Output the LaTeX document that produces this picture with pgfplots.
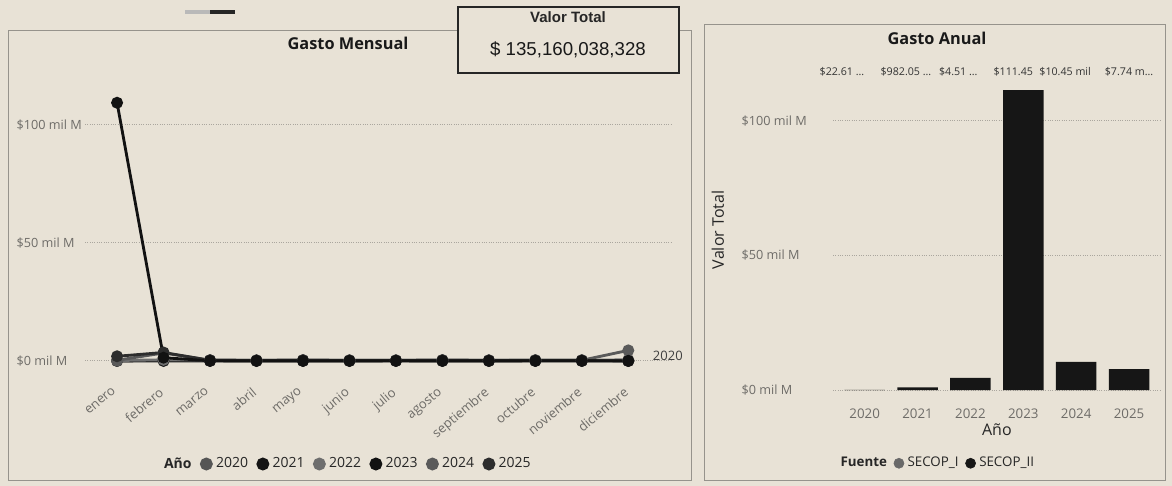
\documentclass[border=0pt]{standalone}
\usepackage{pgfplots}
\pgfplotsset{compat=1.18}
\usepackage{fontspec}
\setmainfont{Open Sans}
\newfontfamily\cardfont{Liberation Sans}
\definecolor{bg}{RGB}{232,226,214}
\definecolor{tickgray}{RGB}{110,108,104}
\definecolor{gridgray}{RGB}{170,166,158}
\definecolor{panelgray}{RGB}{150,147,140}
\definecolor{c2020}{RGB}{85,85,85}
\definecolor{c2021}{RGB}{20,20,20}
\definecolor{c2022}{RGB}{110,110,110}
\definecolor{c2023}{RGB}{18,18,18}
\definecolor{c2024}{RGB}{90,90,90}
\definecolor{c2025}{RGB}{45,45,45}
\definecolor{barblack}{RGB}{22,22,22}
\definecolor{secopI}{RGB}{105,105,105}
\newcommand{\fs}[1]{\fontsize{#1}{#1}\selectfont}

\pgfplotstableread{
m   y2020 y2021 y2022 y2023 y2024 y2025
0   0.00  0.05  0.20  109.40 0.30 2.00
1   0.00  0.10  0.50  1.40  3.40  3.60
2   0.00  0.08  0.35  0.07  0.30  0.30
3   0.00  0.08  0.35  0.06  0.20  0.20
4   0.00  0.09  0.40  0.06  0.30  0.30
5   0.00  0.08  0.35  0.06  0.20  0.20
6   0.00  0.08  0.35  0.07  0.20  0.20
7   0.00  0.08  0.40  0.06  0.30  0.30
8   0.00  0.08  0.35  0.06  0.20  0.20
9   0.00  0.08  0.40  0.07  0.30  0.20
10  0.00  0.08  0.35  0.07  0.30  0.20
11  0.02  0.10  0.50  0.07  4.50  0.00
}\mensual

\pgfplotstableread{
x  v
0  0.0226
1  0.982
2  4.51
3  111.45
4  10.45
5  7.74
}\anual

\begin{document}
\begin{tikzpicture}
\begin{scope}[x=0.6pt,y=-0.6pt]
  \fill[bg] (0,0) rectangle (1172,486);
  % panels
  \draw[panelgray, line width=0.5pt] (8,30) rectangle (691,480);
  \draw[panelgray, line width=0.5pt] (704,24) rectangle (1165,480);
  % slider artifact
  \draw[line width=2.2pt, gray!55] (185,12) -- (210,12);
  \draw[line width=2.2pt, black!85] (210,12) -- (235,12);
  % card
  \filldraw[fill=bg, draw=black!85, line width=1pt] (458,7) rectangle (679,73);
  \node[font=\cardfont\bfseries\fs{9}, text=black!85] at (568,17) {Valor Total};
  \node[font=\cardfont\fs{11.2}, text=black!90] at (568,50) {\$ 135,160,038,328};
  % titles
  \node[font=\bfseries\fs{9.8}, text=black!90] at (348,43) {Gasto Mensual};
  \node[font=\bfseries\fs{9.8}, text=black!90] at (937,38) {Gasto Anual};
  \coordinate (LA) at (85,371);
  \coordinate (RA) at (833,395.4);
\end{scope}

% ---------- Gasto Mensual ----------
\begin{axis}[
  at={(LA)}, anchor=south west,
  scale only axis, width=352.2pt, height=168.6pt,
  xmin=-0.69, xmax=11.94, ymin=-4.24, ymax=114.8,
  axis line style={draw=none}, tick style={draw=none},
  ytick={0,50,100}, yticklabels={\$0 mil M,\$50 mil M,\$100 mil M},
  yticklabel style={anchor=west, xshift=-44.6pt, font=\fs{7.6}, text=tickgray},
  xtick={0,...,11},
  xticklabels={enero,febrero,marzo,abril,mayo,junio,julio,agosto,septiembre,octubre,noviembre,diciembre},
  xticklabel style={rotate=40, anchor=north east, font=\fs{7.8}, text=tickgray, xshift=-5pt, yshift=-1.5pt},
  ymajorgrids, major grid style={densely dotted, gridgray, line width=0.6pt},
  clip=false,
  legend style={at={(axis description cs:0.447,-0.331)}, anchor=center, draw=none, fill=none,
    legend columns=-1, font=\fs{8.4}, text=black!85,
    /tikz/every even column/.append style={column sep=3pt},
    legend cell align=left},
  legend image code/.code={\fill[#1] (0.1cm,0cm) circle (3pt);},
  every axis plot/.append style={line width=1.7pt, mark=*, mark size=2.7pt},
]
\addlegendimage{empty legend}\addlegendentry{\textbf{Año}}
\addlegendimage{c2020}\addlegendentry{2020}
\addlegendimage{c2021}\addlegendentry{2021}
\addlegendimage{c2022}\addlegendentry{2022}
\addlegendimage{c2023}\addlegendentry{2023}
\addlegendimage{c2024}\addlegendentry{2024}
\addlegendimage{c2025}\addlegendentry{2025}
\addplot[c2020, forget plot] table[x=m,y=y2020] {\mensual};
\addplot[c2021, forget plot] table[x=m,y=y2021] {\mensual};
\addplot[c2022, forget plot] table[x=m,y=y2022] {\mensual};
\addplot[c2024, forget plot] table[x=m,y=y2024] {\mensual};
\addplot[c2025, forget plot] table[x=m,y=y2025] {\mensual};
\addplot[c2023, forget plot] table[x=m,y=y2023] {\mensual};
\node[font=\fs{7.8}, text=black!75] at (axis cs:11.85,2.1) {2020};
\end{axis}

% ---------- Gasto Anual ----------
\begin{axis}[
  at={(RA)}, anchor=south west,
  scale only axis, width=196.7pt, height=192.1pt,
  xmin=-0.6, xmax=5.6, ymin=-2, ymax=117,
  ybar, bar width=24.3pt,
  axis line style={draw=none}, tick style={draw=none},
  ytick={0,50,100}, yticklabels={\$0 mil M,\$50 mil M,\$100 mil M},
  yticklabel style={anchor=west, xshift=-58.4pt, font=\fs{7.6}, text=tickgray},
  xtick={0,...,5}, xticklabels={2020,2021,2022,2023,2024,2025},
  xticklabel style={font=\fs{8}, text=tickgray},
  ymajorgrids, major grid style={densely dotted, gridgray, line width=0.6pt},
  ylabel={Valor Total},
  ylabel style={at={(axis description cs:-0.351,0.517)}, anchor=center, font=\fs{9.6}, text=black!85},
  xlabel={Año},
  xlabel style={at={(axis description cs:0.5,-0.108)}, anchor=center, font=\fs{9.6}, text=black!85},
  clip=false,
  legend style={at={(axis description cs:0.318,-0.212)}, anchor=center, draw=none, fill=none,
    legend columns=-1, font=\fs{8}, text=black!85,
    /tikz/every even column/.append style={column sep=2pt}},
  legend image code/.code={\fill[#1] (0.1cm,0cm) circle (3pt);},
]
\addlegendimage{empty legend}\addlegendentry{\textbf{Fuente}}
\addlegendimage{secopI}\addlegendentry{SECOP\_I}
\addlegendimage{barblack}\addlegendentry{SECOP\_II}
\addplot[fill=barblack, draw=none, forget plot, bar shift=0pt] table[x=x,y=v] {\anual};
\node[font=\fs{6.4}, text=black!80] at (axis cs:-0.43,118.2) {\$22.61 ...};
\node[font=\fs{6.4}, text=black!80] at (axis cs:0.78,118.2) {\$982.05 ...};
\node[font=\fs{6.4}, text=black!80] at (axis cs:1.77,118.2) {\$4.51 ...};
\node[font=\fs{6.4}, text=black!80] at (axis cs:2.81,118.2) {\$111.45};
\node[font=\fs{6.4}, text=black!80] at (axis cs:3.79,118.2) {\$10.45 mil};
\node[font=\fs{6.4}, text=black!80] at (axis cs:5.0,118.2) {\$7.74 m...};
\end{axis}

\pgfresetboundingbox
\begin{scope}[x=0.6pt,y=-0.6pt]
\useasboundingbox (0,0) rectangle (1172,486);
\end{scope}
\end{tikzpicture}
\end{document}
